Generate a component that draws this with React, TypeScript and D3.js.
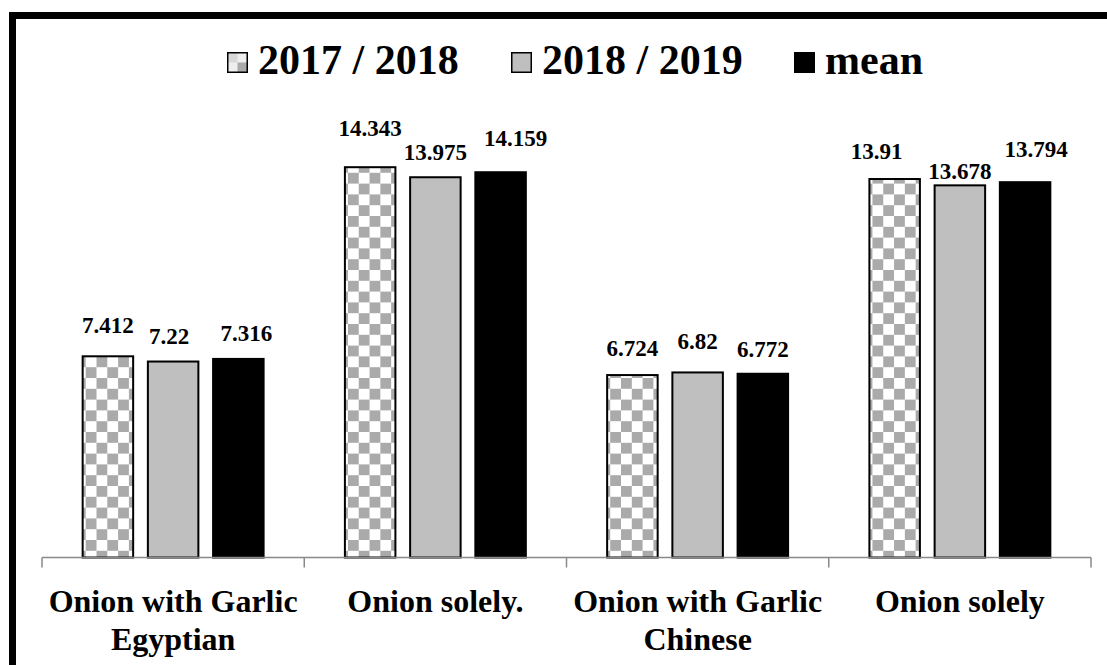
import React from "react";
import * as d3 from "d3";

const categories = ["Onion with Garlic Egyptian", "Onion solely.", "Onion with Garlic Chinese", "Onion solely"];
const categoryLines = [["Onion with Garlic", "Egyptian"], ["Onion solely."], ["Onion with Garlic", "Chinese"], ["Onion solely"]];
const series = ["2017 / 2018", "2018 / 2019", "mean"];
const values2017 = [7.412, 14.343, 6.724, 13.91];
const values2018 = [7.22, 13.975, 6.82, 13.678];
const valuesMean = [7.316, 14.159, 6.772, 13.794];
const seriesValues = [values2017, values2018, valuesMean];

// layout tweaks for value labels (gap above bar, horizontal nudge)
const labelLift = [[22, 17, 17], [30, 16, 25], [18, 22, 16], [19, 5, 24]];
const labelDx = [[0, -4, 8], [0, 0, 15], [0, 0, 0], [-18, 0, 11]];
const legendX = [227, 511, 794];

const FONT = "'Liberation Serif', 'Times New Roman', serif";

export default function App() {
  const W = 1107, H = 665;
  const x0 = d3.scaleBand<string>().domain(categories).range([42, 1091]);
  const x1 = d3.scaleBand<string>().domain(series).range([0, x0.bandwidth()]).paddingInner(0.195).paddingOuter(0.608);
  const y = d3.scaleLinear().domain([0, 16]).range([557.5, 121]);
  const fills = ["url(#checker)", "#bfbfbf", "#000000"];
  const legendFills = ["url(#checkerLegend)", "#bfbfbf", "#000000"];
  const baseY = y(0);
  const ticks = [...categories.map((c) => x0(c) as number), 1091];

  return (
    <svg width={W} height={H} style={{ position: "absolute", left: 0, top: 0, background: "#fff" }}>
      <defs>
        <pattern id="checker" patternUnits="userSpaceOnUse" x={0.5} y={0} width={21.6} height={21.6}>
          <rect width={21.6} height={21.6} fill="#ffffff" />
          <rect x={0} y={0} width={10.8} height={10.8} fill="#aaaaaa" />
          <rect x={10.8} y={10.8} width={10.8} height={10.8} fill="#aaaaaa" />
        </pattern>
        <pattern id="checkerLegend" patternUnits="userSpaceOnUse" x={legendX[0]} y={52} width={21} height={21}>
          <rect width={21} height={21} fill="#eeeeee" />
          <rect x={0} y={0} width={10.5} height={10.5} fill="#d8d8d8" />
          <rect x={10.5} y={10.5} width={10.5} height={10.5} fill="#aaaaaa" />
        </pattern>
      </defs>
      <rect x={12.5} y={15.5} width={1200} height={800} fill="#fff" stroke="#000" strokeWidth={7} />

      {/* legend */}
      {series.map((s, i) => (
        <g key={s}>
          <rect x={legendX[i] + 0.75} y={52.75} width={19.5} height={19.5} fill={legendFills[i]} stroke="#000" strokeWidth={1.5} />
          <text x={legendX[i] + 31} y={74} fontFamily={FONT} fontWeight="bold" fontSize={42} fill="#000">{s}</text>
        </g>
      ))}

      {/* bars */}
      {categories.map((c, ci) => (
        <g key={c} transform={`translate(${x0(c)},0)`}>
          {series.map((s, si) => {
            const v = seriesValues[si][ci];
            const bx = x1(s) as number;
            const bw = x1.bandwidth();
            return (
              <g key={s}>
                <rect x={bx + 1} y={y(v) + 1} width={bw - 2} height={baseY - y(v) - 1} fill={fills[si]} stroke="#000" strokeWidth={2} />
                <text x={bx + bw / 2 + labelDx[ci][si]} y={y(v) - labelLift[ci][si]} textAnchor="middle" fontFamily={FONT} fontWeight="bold" fontSize={23} fill="#000">{String(v)}</text>
              </g>
            );
          })}
        </g>
      ))}

      {/* axis */}
      <line x1={42} x2={1091} y1={baseY} y2={baseY} stroke="#898989" strokeWidth={1.5} />
      {ticks.map((t, i) => (
        <line key={i} x1={t} x2={t} y1={baseY} y2={baseY + 10} stroke="#898989" strokeWidth={1.5} />
      ))}
      {categories.map((c, ci) => (
        <text key={c} textAnchor="middle" fontFamily={FONT} fontWeight="bold" fontSize={32} fill="#000">
          {categoryLines[ci].map((ln, li) => (
            <tspan key={li} x={(x0(c) as number) + x0.bandwidth() / 2} y={612 + li * 37.5}>{ln}</tspan>
          ))}
        </text>
      ))}
    </svg>
  );
}
